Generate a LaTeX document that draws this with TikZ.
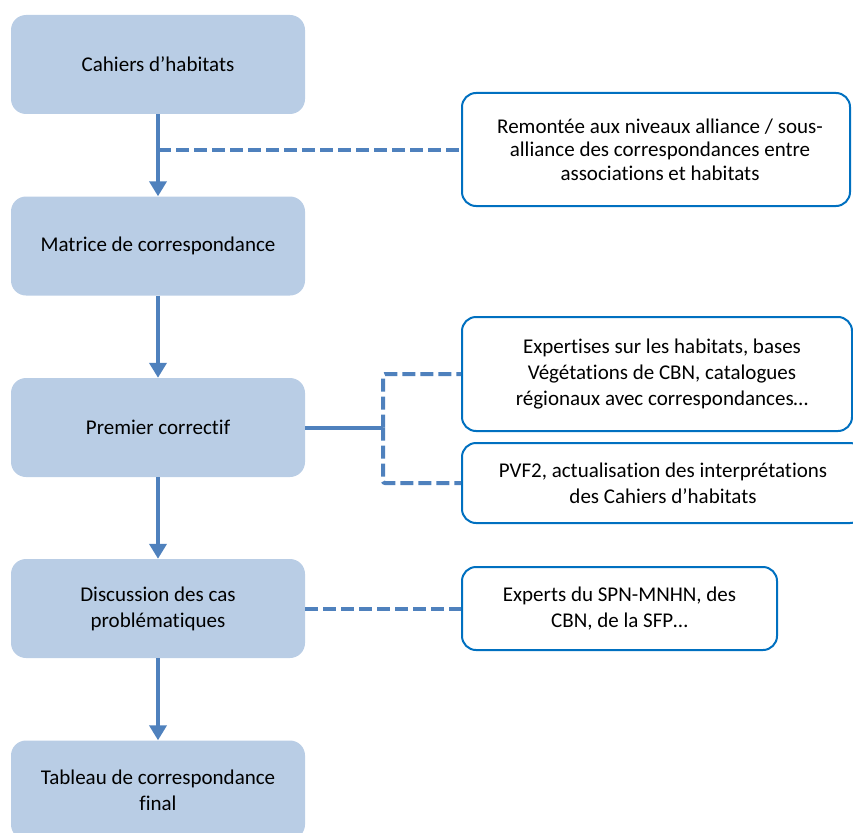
\documentclass[tikz,border=0pt]{standalone}
\usepackage{fontspec}
\setmainfont{Carlito}[Ligatures={NoCommon}]
\usetikzlibrary{arrows.meta}
\definecolor{boxfill}{HTML}{B9CDE5}
\definecolor{lineblue}{HTML}{4F81BD}
\definecolor{frameblue}{HTML}{0070C0}
\begin{document}
\begin{tikzpicture}[x=1pt,y=-1pt,
  stepbox/.style={rectangle, rounded corners=15pt, fill=boxfill, minimum width=294pt, minimum height=99pt, align=center, font=\fontsize{21}{26}\selectfont, inner sep=0pt},
  notebox/.style={rectangle, rounded corners=14pt, draw=frameblue, line width=2pt, fill=white, align=center, font=\fontsize{21}{26}\selectfont, inner sep=0pt},
  flow/.style={draw=lineblue, line width=4pt, -{Triangle[width=17pt,length=15pt,fill=lineblue]}},
  link/.style={draw=lineblue, line width=4pt, dash pattern=on 13pt off 5pt, rounded corners=2pt},
  solidlink/.style={draw=lineblue, line width=4pt}]
\useasboundingbox (0,0) rectangle (853,832);
\clip (0,0) rectangle (853,832);

\node[stepbox] (b1) at (158,64.5) {Cahiers d’habitats};
\node[stepbox] (b2) at (158,246) {Matrice de correspondance};
\node[stepbox] (b3) at (158,427.5) {Premier correctif};
\node[stepbox] (b4) at (158,608.5) {Discussion des cas\\problématiques};
\node[stepbox] (b5) at (158,790) {Tableau de correspondance\\final};

\node[notebox, minimum width=388pt, minimum height=113pt, font=\fontsize{21}{23.5}\selectfont] (r1) at (656,149.5) {\hspace*{8pt}Remontée aux niveaux alliance / sous-\\\hspace*{8pt}alliance des correspondances entre\\\hspace*{8pt}associations et habitats};
\node[notebox, minimum width=390pt, minimum height=114pt] (r2) at (657,374) {\hspace*{10pt}Expertises sur les habitats, bases\\\hspace*{10pt}Végétations de CBN, catalogues\\\hspace*{10pt}régionaux avec correspondances…};
\node[notebox, minimum width=402pt, minimum height=80pt] (r3) at (663,483) {PVF2, actualisation des interprétations\\des Cahiers d’habitats};
\node[notebox, minimum width=315pt, minimum height=83pt] (r4) at (619.5,608.5) {Experts du SPN-MNHN, des\\CBN, de la SFP…};

\draw[flow] (b1.south) -- (b2.north);
\draw[flow] (b2.south) -- (b3.north);
\draw[flow] (b3.south) -- (b4.north);
\draw[flow] (b4.south) -- (b5.north);

\coordinate (j1) at (b1.south |- r1.west);
\draw[link] (j1) -- (r1.west);

\coordinate (j3) at (383,427.5);
\draw[solidlink] (b3.east) -- (j3);
\draw[link] (j3) |- (r2.west);
\draw[link] (j3) |- (r3.west);

\draw[link] (b4.east) -- (r4.west);
\end{tikzpicture}
\end{document}
